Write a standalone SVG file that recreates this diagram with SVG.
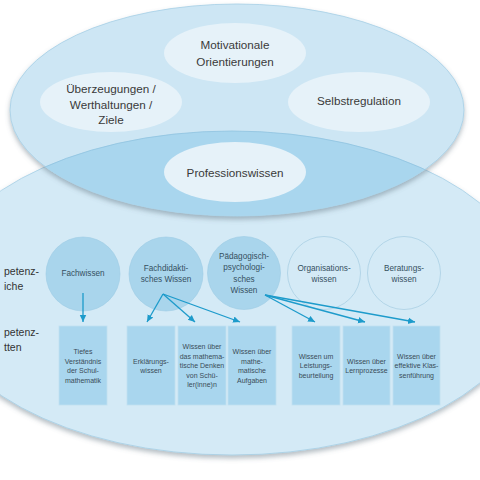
<svg xmlns="http://www.w3.org/2000/svg" width="480" height="480" viewBox="0 0 480 480">
<defs>
<style>
.big{font-family:"Liberation Sans",Arial,sans-serif;font-size:11.7px;fill:#3a3a3a;text-anchor:middle}
.lab{font-family:"Liberation Sans",Arial,sans-serif;font-size:10.5px;fill:#333;text-anchor:start}
.ct{font-family:"Liberation Sans",Arial,sans-serif;font-size:8.2px;fill:#35505f;text-anchor:middle}
.bt{font-family:"Liberation Sans",Arial,sans-serif;font-size:7px;fill:#3a4c58;text-anchor:middle}
.inner{fill:#e6f2f9}
.box{fill:#a9d6ee;stroke:#c0e0f1;stroke-width:0.8}
.fc{fill:#a9d5ec;stroke:#9ccbe4;stroke-width:0.6}
.oc{fill:none;stroke:#a9cfe3;stroke-width:0.8}
.arr{stroke:#1d9bcb;stroke-width:1.3;fill:none;marker-end:url(#ah)}
</style>
<marker id="ah" markerUnits="userSpaceOnUse" markerWidth="8" markerHeight="8" refX="7" refY="4" orient="auto">
<path d="M0,0.8 L7,4 L0,7.2 Z" fill="#1d9bcb"/>
</marker>
<filter id="sh" x="-10%" y="-10%" width="120%" height="130%">
<feDropShadow dx="0" dy="3" stdDeviation="2.5" flood-color="#5a6f7c" flood-opacity="0.45"/>
</filter>
<clipPath id="topclip"><ellipse cx="237" cy="110" rx="227" ry="106"/></clipPath>
</defs>
<rect width="480" height="480" fill="#ffffff"/>
<g id="bereich-ellipse">
<ellipse cx="232" cy="293" rx="298" ry="162" fill="#d4eaf6" stroke="#a6cfe6" stroke-width="0.8" filter="url(#sh)"/>
</g>
<g id="kompetenz-ellipse">
<ellipse cx="237" cy="110" rx="227" ry="106" fill="#cde6f4" stroke="#a6cfe6" stroke-width="0.8" filter="url(#sh)"/>
<ellipse cx="232" cy="293" rx="298" ry="162" fill="#a9d6ee" stroke="#8fc3e0" stroke-width="0.8" clip-path="url(#topclip)"/>
</g>
<g id="motivationale">
<ellipse class="inner" cx="235" cy="53" rx="71" ry="30"/>
<text class="big" x="235" y="49">Motivationale</text>
<text class="big" x="235" y="66">Orientierungen</text>
</g>
<g id="ueberzeugungen">
<ellipse class="inner" cx="111" cy="102" rx="71" ry="30"/>
<text class="big" x="111" y="93">Überzeugungen /</text>
<text class="big" x="111" y="109">Werthaltungen /</text>
<text class="big" x="111" y="124">Ziele</text>
</g>
<g id="selbstregulation">
<ellipse class="inner" cx="359" cy="102" rx="71" ry="30"/>
<text class="big" x="359" y="105">Selbstregulation</text>
</g>
<g id="professionswissen">
<ellipse class="inner" cx="235" cy="172" rx="71" ry="30"/>
<text class="big" x="235" y="177">Professionswissen</text>
</g>
<g id="labels">
<text class="lab" x="4" y="275">petenz-</text>
<text class="lab" x="4" y="290">iche</text>
<text class="lab" x="4" y="336">petenz-</text>
<text class="lab" x="4" y="351">tten</text>
</g>
<g id="fachwissen">
<circle class="fc" cx="83" cy="274" r="37"/>
<text class="ct" x="83" y="276">Fachwissen</text>
</g>
<g id="fachdidaktik">
<circle class="fc" cx="166" cy="274" r="37"/>
<text class="ct" x="166" y="271">Fachdidakti-</text>
<text class="ct" x="166" y="281.5">sches Wissen</text>
</g>
<g id="paedagogik">
<circle class="fc" cx="244" cy="273" r="36.5"/>
<text class="ct" x="244" y="259">Pädagogisch-</text>
<text class="ct" x="244" y="270">psychologi-</text>
<text class="ct" x="244" y="281.5">sches</text>
<text class="ct" x="244" y="293">Wissen</text>
</g>
<g id="organisation">
<circle class="oc" cx="324" cy="273" r="36.5"/>
<text class="ct" x="324" y="271">Organisations-</text>
<text class="ct" x="324" y="281.5">wissen</text>
</g>
<g id="beratung">
<circle class="oc" cx="404" cy="273" r="36.5"/>
<text class="ct" x="404" y="271">Beratungs-</text>
<text class="ct" x="404" y="281.5">wissen</text>
</g>
<g id="box-tiefes">
<rect class="box" x="59" y="326" width="48" height="79"/>
<text class="bt" x="83" y="354">Tiefes</text>
<text class="bt" x="83" y="363.5">Verständnis</text>
<text class="bt" x="83" y="373">der Schul-</text>
<text class="bt" x="83" y="382.5">mathematik</text>
</g>
<g id="box-erklaerung">
<rect class="box" x="127" y="326" width="48" height="79"/>
<text class="bt" x="151" y="363.5">Erklärungs-</text>
<text class="bt" x="151" y="373">wissen</text>
</g>
<g id="box-denken">
<rect class="box" x="178" y="326" width="48" height="79"/>
<text class="bt" x="202" y="349">Wissen über</text>
<text class="bt" x="202" y="358.5">das mathema-</text>
<text class="bt" x="202" y="368">tische Denken</text>
<text class="bt" x="202" y="377.5">von Schü-</text>
<text class="bt" x="202" y="387">ler(inne)n</text>
</g>
<g id="box-aufgaben">
<rect class="box" x="228" y="326" width="48" height="79"/>
<text class="bt" x="252" y="354">Wissen über</text>
<text class="bt" x="252" y="363.5">mathe-</text>
<text class="bt" x="252" y="373">matische</text>
<text class="bt" x="252" y="382.5">Aufgaben</text>
</g>
<g id="box-leistung">
<rect class="box" x="292" y="326" width="48" height="79"/>
<text class="bt" x="316" y="358.5">Wissen um</text>
<text class="bt" x="316" y="368">Leistungs-</text>
<text class="bt" x="316" y="377.5">beurteilung</text>
</g>
<g id="box-lernprozesse">
<rect class="box" x="343" y="326" width="47" height="79"/>
<text class="bt" x="366.5" y="363.5">Wissen über</text>
<text class="bt" x="366.5" y="373">Lernprozesse</text>
</g>
<g id="box-klassenfuehrung">
<rect class="box" x="393" y="326" width="47" height="79"/>
<text class="bt" x="416.5" y="358.5">Wissen über</text>
<text class="bt" x="416.5" y="368">effektive Klas-</text>
<text class="bt" x="416.5" y="377.5">senführung</text>
</g>
<g id="connectors">
<line class="arr" x1="83" y1="293" x2="83" y2="322"/>
<line class="arr" x1="163" y1="294" x2="147" y2="322"/>
<line class="arr" x1="163" y1="294" x2="195" y2="322"/>
<line class="arr" x1="163" y1="294" x2="240" y2="322"/>
<line class="arr" x1="265" y1="295" x2="315" y2="322"/>
<line class="arr" x1="265" y1="295" x2="365" y2="322"/>
<line class="arr" x1="265" y1="295" x2="415" y2="322"/>
</g>
</svg>
